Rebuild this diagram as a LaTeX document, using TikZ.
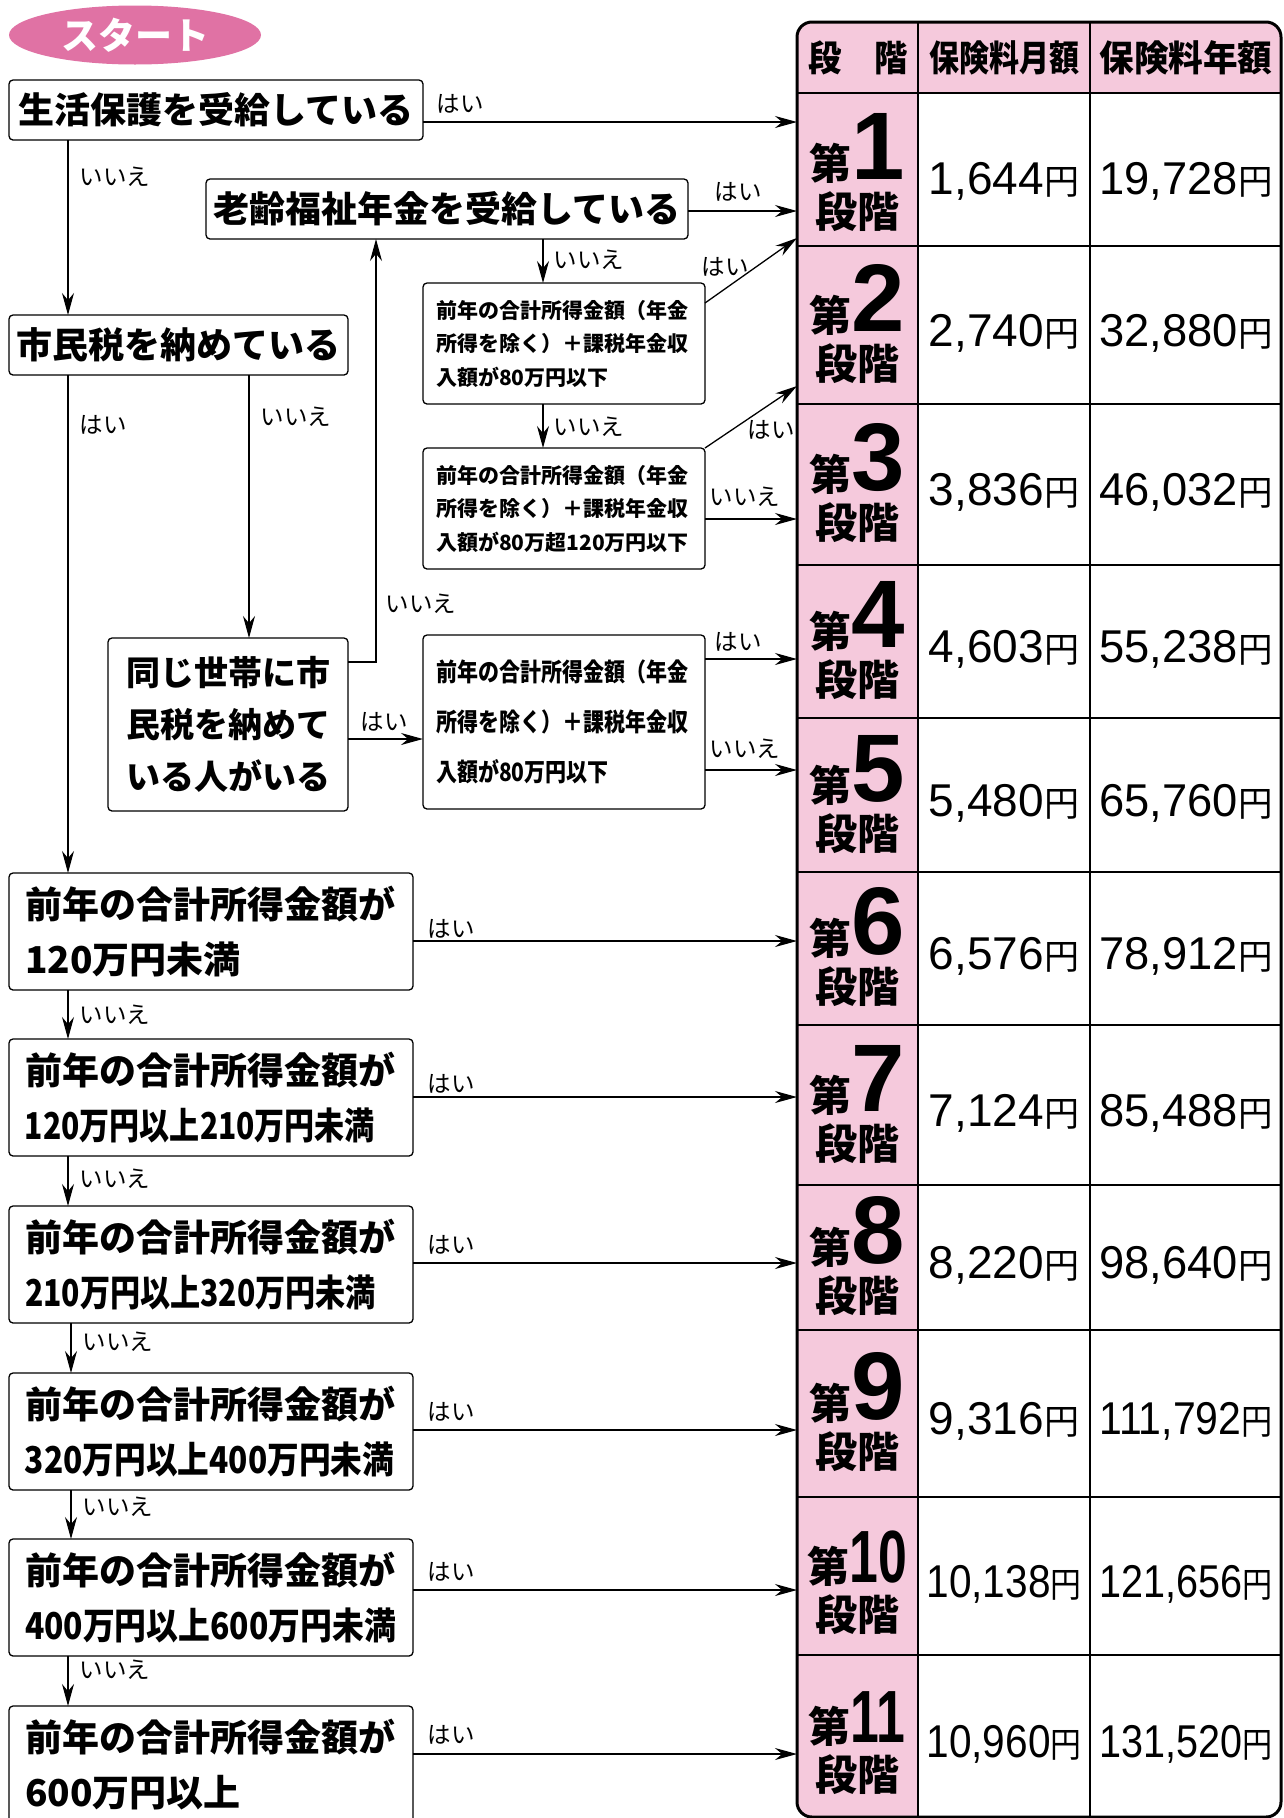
\documentclass[tikz,border=0pt]{standalone}
\usepackage{fontspec}
\usepackage{graphicx}
\setmainfont{Noto Sans CJK JP}
\newfontfamily\jp{Noto Sans CJK JP}
\newfontfamily\numfont{Liberation Sans}
\usetikzlibrary{arrows.meta,shapes.geometric}
\definecolor{startpink}{RGB}{224,114,164}
\definecolor{tpink}{RGB}{245,201,220}
\newsavebox\amtbx
\newcommand\fitw[2]{\sbox\amtbx{#2}\ifdim\wd\amtbx>#1\relax\resizebox{#1}{\height}{\usebox\amtbx}\else\usebox\amtbx\fi}
\newcommand\jyen{{\jp\fontsize{35}{35}\selectfont 円}}
\newcommand\sdig[1]{{\numfont\bfseries\fontsize{96}{96}\selectfont #1}}
\newcommand\sdigs[1]{\scalebox{0.7}[1]{\numfont\bfseries\fontsize{74}{74}\selectfont #1}}
\newcommand\vs[1]{\scalebox{1}[1.2]{#1}}
\newcommand\stagerow[5]{%
  \node[stg] (s#1) at (857,#2-34) {\raisebox{0pt}[40pt][0pt]{第#3}\\段階};
  \node[amt] (m#1) at (1004,#2+21) {\fitw{155pt}{\numfont #4\jyen}};
  \node[amt] (y#1) at (1186,#2+21) {\fitw{173pt}{\numfont #5\jyen}};
}
\begin{document}
\begin{tikzpicture}[x=1pt,y=-1pt,
  box/.style={draw, line width=1.3pt, rounded corners=4pt, fill=white, anchor=north west, inner sep=0pt, outer sep=0pt},
  arr/.style={line width=1.3pt, -{Stealth[length=22pt,width=12pt]}},
  lbl/.style={anchor=base west, inner sep=0pt, font=\fontsize{23.5}{23.5}\selectfont},
  stg/.style={anchor=north, inner sep=0pt, align=center, font=\fontsize{42}{48}\selectfont\bfseries},
  amt/.style={anchor=base, inner sep=0pt, font=\fontsize{46}{46}\selectfont},
  head/.style={anchor=base, inner sep=0pt, font=\fontsize{36}{36}\selectfont\bfseries},
  bigtxt/.style={font=\fontsize{36}{36}\selectfont\bfseries},
  smalltxt/.style={text width=256pt, inner xsep=13pt, align=left, font=\fontsize{21}{33.5}\selectfont\bfseries},
  dtxt/.style={text width=372pt, inner xsep=16pt, align=left, minimum height=117pt, font=\fontsize{37}{55}\selectfont\bfseries}
]
\useasboundingbox (0,0) rectangle (1284,1818);
\clip (0,0) rectangle (1284,1818);

% ---------- table ----------
\begin{scope}
  \clip[rounded corners=15pt] (797,22) rectangle (1281,1817);
  \fill[tpink] (797,22) rectangle (1281,93);
  \fill[tpink] (797,93) rectangle (918,1817);
  \foreach \yy in {93,246,404,565,718,872,1025,1185,1330,1497,1655}
    \draw[line width=1.2pt] (797,\yy) -- (1281,\yy);
  \foreach \xx in {918,1090}
    \draw[line width=1.2pt] (\xx,22) -- (\xx,1817);
\end{scope}
\node[draw, line width=3pt, rounded corners=15pt, minimum width=484pt, minimum height=1795pt, inner sep=0pt, outer sep=0pt, anchor=north west] (tbl) at (797,22) {};

\node[head] (h1) at (858,71) {\fitw{100pt}{段　階}};
\node[head] (h2) at (1004,71) {\fitw{150pt}{保険料月額}};
\node[head] (h3) at (1186,71) {\fitw{173pt}{保険料年額}};

\stagerow{1}{173}{\sdig{1}}{1,644}{19,728}
\stagerow{2}{325}{\sdig{2}}{2,740}{32,880}
\stagerow{3}{484.5}{\sdig{3}}{3,836}{46,032}
\stagerow{4}{641.5}{\sdig{4}}{4,603}{55,238}
\stagerow{5}{795}{\sdig{5}}{5,480}{65,760}
\stagerow{6}{948.5}{\sdig{6}}{6,576}{78,912}
\stagerow{7}{1105}{\sdig{7}}{7,124}{85,488}
\stagerow{8}{1257.5}{\sdig{8}}{8,220}{98,640}
\stagerow{9}{1413.5}{\sdig{9}}{9,316}{111,792}
\stagerow{10}{1576}{\sdigs{10}}{10,138}{121,656}
\stagerow{11}{1736}{\sdigs{11}}{10,960}{131,520}

% ---------- flow chart ----------
\node[ellipse, fill=startpink, minimum width=252pt, minimum height=59pt, inner sep=0pt, text=white, font=\fontsize{37}{37}\selectfont\bfseries] (start) at (135,35) {スタート};

\node[box, bigtxt, minimum width=414pt, minimum height=60pt] (b1) at (9,80) {生活保護を受給している};
\node[box, bigtxt, minimum width=482pt, minimum height=60pt] (b2) at (206,179) {老齢福祉年金を受給している};
\node[box, bigtxt, minimum width=339pt, minimum height=60pt] (b3) at (9,315) {市民税を納めている};
\node[box, text width=204pt, inner xsep=18pt, align=left, minimum height=173pt, font=\fontsize{34}{52}\selectfont\bfseries] (b4) at (108,638) {同じ世帯に市\\民税を納めて\\いる人がいる};

\node[box, smalltxt, minimum height=121pt] (bA) at (423,283) {前年の合計所得金額（年金\\所得を除く）＋課税年金収\\入額が80万円以下};
\node[box, smalltxt, minimum height=121pt] (bB) at (423,448) {前年の合計所得金額（年金\\所得を除く）＋課税年金収\\入額が80万超120万円以下};
\node[box, smalltxt, minimum height=174pt, font=\fontsize{21}{50}\selectfont\bfseries] (bC) at (423,635) {\vs{前年の合計所得金額（年金}\\\vs{所得を除く）＋課税年金収}\\\vs{入額が80万円以下}};

\node[box, dtxt] (d1) at (9,873) {前年の合計所得金額が\\120万円未満};
\node[box, dtxt] (d2) at (9,1039) {前年の合計所得金額が\\\fitw{350pt}{120万円以上210万円未満}};
\node[box, dtxt] (d3) at (9,1206) {前年の合計所得金額が\\\fitw{351pt}{210万円以上320万円未満}};
\node[box, dtxt] (d4) at (9,1373) {前年の合計所得金額が\\\fitw{369pt}{320万円以上400万円未満}};
\node[box, dtxt] (d5) at (9,1539) {前年の合計所得金額が\\\fitw{371pt}{400万円以上600万円未満}};
\node[box, dtxt] (d6) at (9,1706) {前年の合計所得金額が\\600万円以上};

% ---------- connectors ----------
\draw[arr] (b1.east |- 0,122) -- (tbl.west |- 0,122) node[lbl] (l1) at (436,112) {はい};
\draw[arr] (b1.south -| 68,0) -- (b3.north -| 68,0) node[lbl] (l2) at (79,185) {いいえ};
\draw[arr] (b2.east |- 0,211) -- (tbl.west |- 0,211) node[lbl] (l3) at (714,200) {はい};
\draw[arr] (b2.south -| 543,0) -- (bA.north -| 543,0) node[lbl] (l4) at (553,268) {いいえ};
\draw[arr] (bA.east |- 0,303) -- (tbl.west |- 0,238) node[lbl] (l5) at (701,275) {はい};
\draw[arr] (bA.south -| 543,0) -- (bB.north -| 543,0) node[lbl] (l6) at (553,435) {いいえ};
\draw[arr] (bB.north east) -- (tbl.west |- 0,386) node[lbl] (l7) at (747,438) {はい};
\draw[arr] (bB.east |- 0,519) -- (tbl.west |- 0,519) node[lbl] (l8) at (709,505) {いいえ};
\draw[arr] (b3.south -| 68,0) -- (d1.north -| 68,0) node[lbl] (l9) at (79,433) {はい};
\draw[arr] (b3.south -| 249,0) -- (b4.north -| 249,0) node[lbl] (l10) at (260,425) {いいえ};
\draw[arr] (b4.east |- 0,662) -| (b2.south -| 376,0) node[lbl] (l11) at (385,612) {いいえ};
\draw[arr] (b4.east |- 0,739) -- (bC.west |- 0,739) node[lbl] (l12) at (360,730) {はい};
\draw[arr] (bC.east |- 0,659) -- (tbl.west |- 0,659) node[lbl] (l13) at (714,650) {はい};
\draw[arr] (bC.east |- 0,770) -- (tbl.west |- 0,770) node[lbl] (l14) at (709,757) {いいえ};

\draw[arr] (d1.east |- 0,941) -- (tbl.west |- 0,941) node[lbl] (l15) at (427,937) {はい};
\draw[arr] (d2.east |- 0,1097) -- (tbl.west |- 0,1097) node[lbl] (l16) at (427,1092) {はい};
\draw[arr] (d3.east |- 0,1263) -- (tbl.west |- 0,1263) node[lbl] (l17) at (427,1253) {はい};
\draw[arr] (d4.east |- 0,1430) -- (tbl.west |- 0,1430) node[lbl] (l18) at (427,1420) {はい};
\draw[arr] (d5.east |- 0,1590) -- (tbl.west |- 0,1590) node[lbl] (l19) at (427,1580) {はい};
\draw[arr] (d6.east |- 0,1754) -- (tbl.west |- 0,1754) node[lbl] (l20) at (427,1743) {はい};

\draw[arr] (d1.south -| 68,0) -- (d2.north -| 68,0) node[lbl] (l21) at (79,1023) {いいえ};
\draw[arr] (d2.south -| 68,0) -- (d3.north -| 68,0) node[lbl] (l22) at (79,1187) {いいえ};
\draw[arr] (d3.south -| 71,0) -- (d4.north -| 71,0) node[lbl] (l23) at (82,1350) {いいえ};
\draw[arr] (d4.south -| 71,0) -- (d5.north -| 71,0) node[lbl] (l24) at (82,1515) {いいえ};
\draw[arr] (d5.south -| 68,0) -- (d6.north -| 68,0) node[lbl] (l25) at (79,1678) {いいえ};
\end{tikzpicture}
\end{document}
